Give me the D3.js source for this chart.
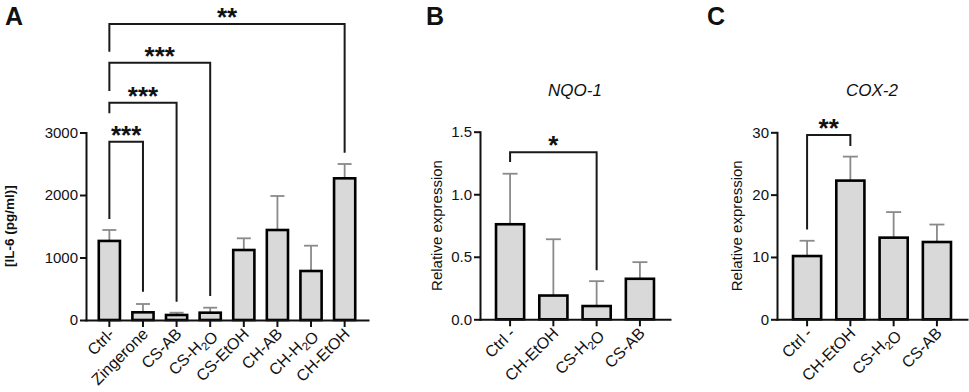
<!DOCTYPE html>
<html>
<head>
<meta charset="utf-8">
<script src="https://cdn.jsdelivr.net/npm/d3@7"></script>
<style>
  body { margin: 0; background: #fff; }
  text { font-family: "Liberation Sans", Arial, sans-serif; fill: #111; }
</style>
</head>
<body>
<script>
// SVG dimensions
const width = 969, height = 392;

// Panel A: IL-6 (pg/ml)
const catsA = ["Ctrl-", "Zingerone", "CS-AB", "CS-H2O", "CS-EtOH", "CH-AB", "CH-H2O", "CH-EtOH"];
const meanA = [1265, 123, 80, 117, 1120, 1440, 784, 2267];
const sdA   = [175, 133, 37, 80, 187, 544, 405, 229];
const ticksA = [0, 1000, 2000, 3000];
// [from, to, stars, bracket level, left leg end, right leg end]
const sigA = [
  ["Ctrl-", "Zingerone", "***", 2853, 1616, 453],
  ["Ctrl-", "CS-AB",     "***", 3477, 3307, 293],
  ["Ctrl-", "CS-H2O",    "***", 4117, 3664, 384],
  ["Ctrl-", "CH-EtOH",   "**",  4736, 4293, 2677]
];

// Panel B: NQO-1
const catsB = ["Ctrl -", "CH-EtOH", "CS-H2O", "CS-AB"];
const meanB = [0.76, 0.19, 0.106, 0.324];
const sdB   = [0.404, 0.45, 0.199, 0.133];
const ticksB = [0, 0.5, 1.0, 1.5];
const sigB = [["Ctrl -", "CS-H2O", "*", 1.336, 1.257, 0.393]];

// Panel C: COX-2
const catsC = ["Ctrl -", "CH-EtOH", "CS-H2O", "CS-AB"];
const meanC = [10.15, 22.25, 13.1, 12.4];
const sdC   = [2.45, 3.85, 4.1, 2.8];
const ticksC = [0, 10, 20, 30];
const sigC = [["Ctrl -", "CH-EtOH", "**", 29.55, 14.4, 27.8]];

const svg = d3.select("body")
  .append("svg")
  .attr("width", width)
  .attr("height", height);

// write a category label, digits rendered as subscripts (H2O)
function writeLabel(sel, str) {
  const parts = str.split(/(\d)/);
  parts.forEach(p => {
    if (p === "") return;
    if (/\d/.test(p)) {
      sel.append("tspan").attr("dy", 4).attr("font-size", "11.5px").text(p);
      sel.append("tspan").attr("dy", -4).text("");
    } else {
      sel.append("tspan").text(p);
    }
  });
}

/**
 * Draw one bar panel
 */
function drawPanel(cfg) {
  const x = d3.scaleBand()
    .domain(cfg.cats)
    .range([cfg.x0, cfg.x1])
    .paddingInner(cfg.pi)
    .paddingOuter(cfg.po);
  const y = d3.scaleLinear()
    .domain([0, cfg.ymax])
    .range([cfg.y0, cfg.y1]);
  const cx = (c) => x(c) + x.bandwidth() / 2;

  const g = svg.append("g");

  // Error bars (upper only, behind the bars)
  const eb = g.append("g")
    .attr("stroke", "#8a8a8a")
    .attr("stroke-width", 1.8);
  cfg.cats.forEach((c, i) => {
    const top = y(cfg.mean[i] + cfg.sd[i]);
    eb.append("line")
      .attr("x1", cx(c)).attr("x2", cx(c))
      .attr("y1", y(cfg.mean[i])).attr("y2", top);
    eb.append("line")
      .attr("x1", cx(c) - cfg.cap / 2).attr("x2", cx(c) + cfg.cap / 2)
      .attr("y1", top).attr("y2", top);
  });

  // Bars
  g.selectAll("rect.bar")
    .data(cfg.cats)
    .enter()
    .append("rect")
    .attr("class", "bar")
    .attr("x", c => x(c))
    .attr("width", x.bandwidth())
    .attr("y", (c, i) => y(cfg.mean[i]))
    .attr("height", (c, i) => y(0) - y(cfg.mean[i]))
    .attr("fill", "#d9d9d9")
    .attr("stroke", "#000")
    .attr("stroke-width", 2.6);

  // Axes
  const ya = g.append("g")
    .attr("transform", `translate(${cfg.x0}, 0)`)
    .call(d3.axisLeft(y).tickValues(cfg.ticks).tickSize(6).tickSizeOuter(0).tickFormat(cfg.fmt));
  const xa = g.append("g")
    .attr("transform", `translate(0, ${cfg.y0})`)
    .call(d3.axisBottom(x).tickSize(7).tickSizeOuter(0).tickFormat(""));
  [ya, xa].forEach(a => {
    a.select(".domain").attr("stroke", "#111").attr("stroke-width", 2).attr("stroke-linecap", "square");
    a.selectAll(".tick line").attr("stroke", "#111").attr("stroke-width", 2);
  });
  ya.selectAll(".tick text")
    .attr("x", -8)
    .style("font-size", "15px")
    .style("font-family", "'Liberation Sans', Arial, sans-serif")
    .attr("fill", "#111");

  // Rotated category labels
  cfg.cats.forEach(c => {
    const t = g.append("text")
      .attr("text-anchor", "end")
      .attr("font-size", "16px")
      .attr("transform", `translate(${cx(c) + 6}, ${cfg.y0 + 15}) rotate(-45)`);
    writeLabel(t, c);
  });

  // Y axis title
  g.append("text")
    .attr("text-anchor", "middle")
    .attr("font-size", cfg.ylabSize)
    .attr("font-weight", cfg.ylabWeight)
    .attr("transform", `translate(${cfg.ylabX}, ${(cfg.y0 + cfg.y1) / 2}) rotate(-90)`)
    .text(cfg.ylab);

  // Significance brackets
  cfg.sig.forEach(s => {
    const xa1 = cx(s[0]), xa2 = cx(s[1]);
    g.append("path")
      .attr("d", `M${xa1},${y(s[4])}V${y(s[3])}H${xa2}V${y(s[5])}`)
      .attr("fill", "none")
      .attr("stroke", "#1a1a1a")
      .attr("stroke-width", 2);
    g.append("text")
      .attr("x", (xa1 + xa2) / 2)
      .attr("y", y(s[3]) + 2)
      .attr("text-anchor", "middle")
      .attr("font-size", "26px")
      .attr("font-weight", "bold")
      .text(s[2]);
  });

  // Panel title
  if (cfg.title) {
    g.append("text")
      .attr("x", cfg.titleX)
      .attr("y", 96)
      .attr("text-anchor", "middle")
      .attr("font-size", "17px")
      .attr("font-style", "italic")
      .text(cfg.title);
  }

  // Panel letter
  g.append("text")
    .attr("x", cfg.letterX)
    .attr("y", 25)
    .attr("font-size", "25px")
    .attr("font-weight", "bold")
    .text(cfg.letter);
}

drawPanel({
  cats: catsA, mean: meanA, sd: sdA, ticks: ticksA, sig: sigA,
  x0: 86, x1: 368, y0: 320, y1: 132.5, ymax: 3000, pi: 0.37, po: 0.38, cap: 14,
  fmt: d3.format("d"), ylab: "[IL-6 (pg/ml)]", ylabX: 14, ylabSize: "13.5px", ylabWeight: "bold",
  letter: "A", letterX: 5
});
drawPanel({
  cats: catsB, mean: meanB, sd: sdB, ticks: ticksB, sig: sigB,
  x0: 480, x1: 670, y0: 319.3, y1: 131.7, ymax: 1.5, pi: 0.35, po: 0.37, cap: 15,
  fmt: d3.format(".1f"), ylab: "Relative expression", ylabX: 442, ylabSize: "15px", ylabWeight: "normal",
  title: "NQO-1", titleX: 575, letter: "B", letterX: 426
});
drawPanel({
  cats: catsC, mean: meanC, sd: sdC, ticks: ticksC, sig: sigC,
  x0: 777, x1: 967, y0: 319.3, y1: 132.3, ymax: 30, pi: 0.35, po: 0.37, cap: 15,
  fmt: d3.format("d"), ylab: "Relative expression", ylabX: 742, ylabSize: "15px", ylabWeight: "normal",
  title: "COX-2", titleX: 872, letter: "C", letterX: 707
});
</script>
</body>
</html>
